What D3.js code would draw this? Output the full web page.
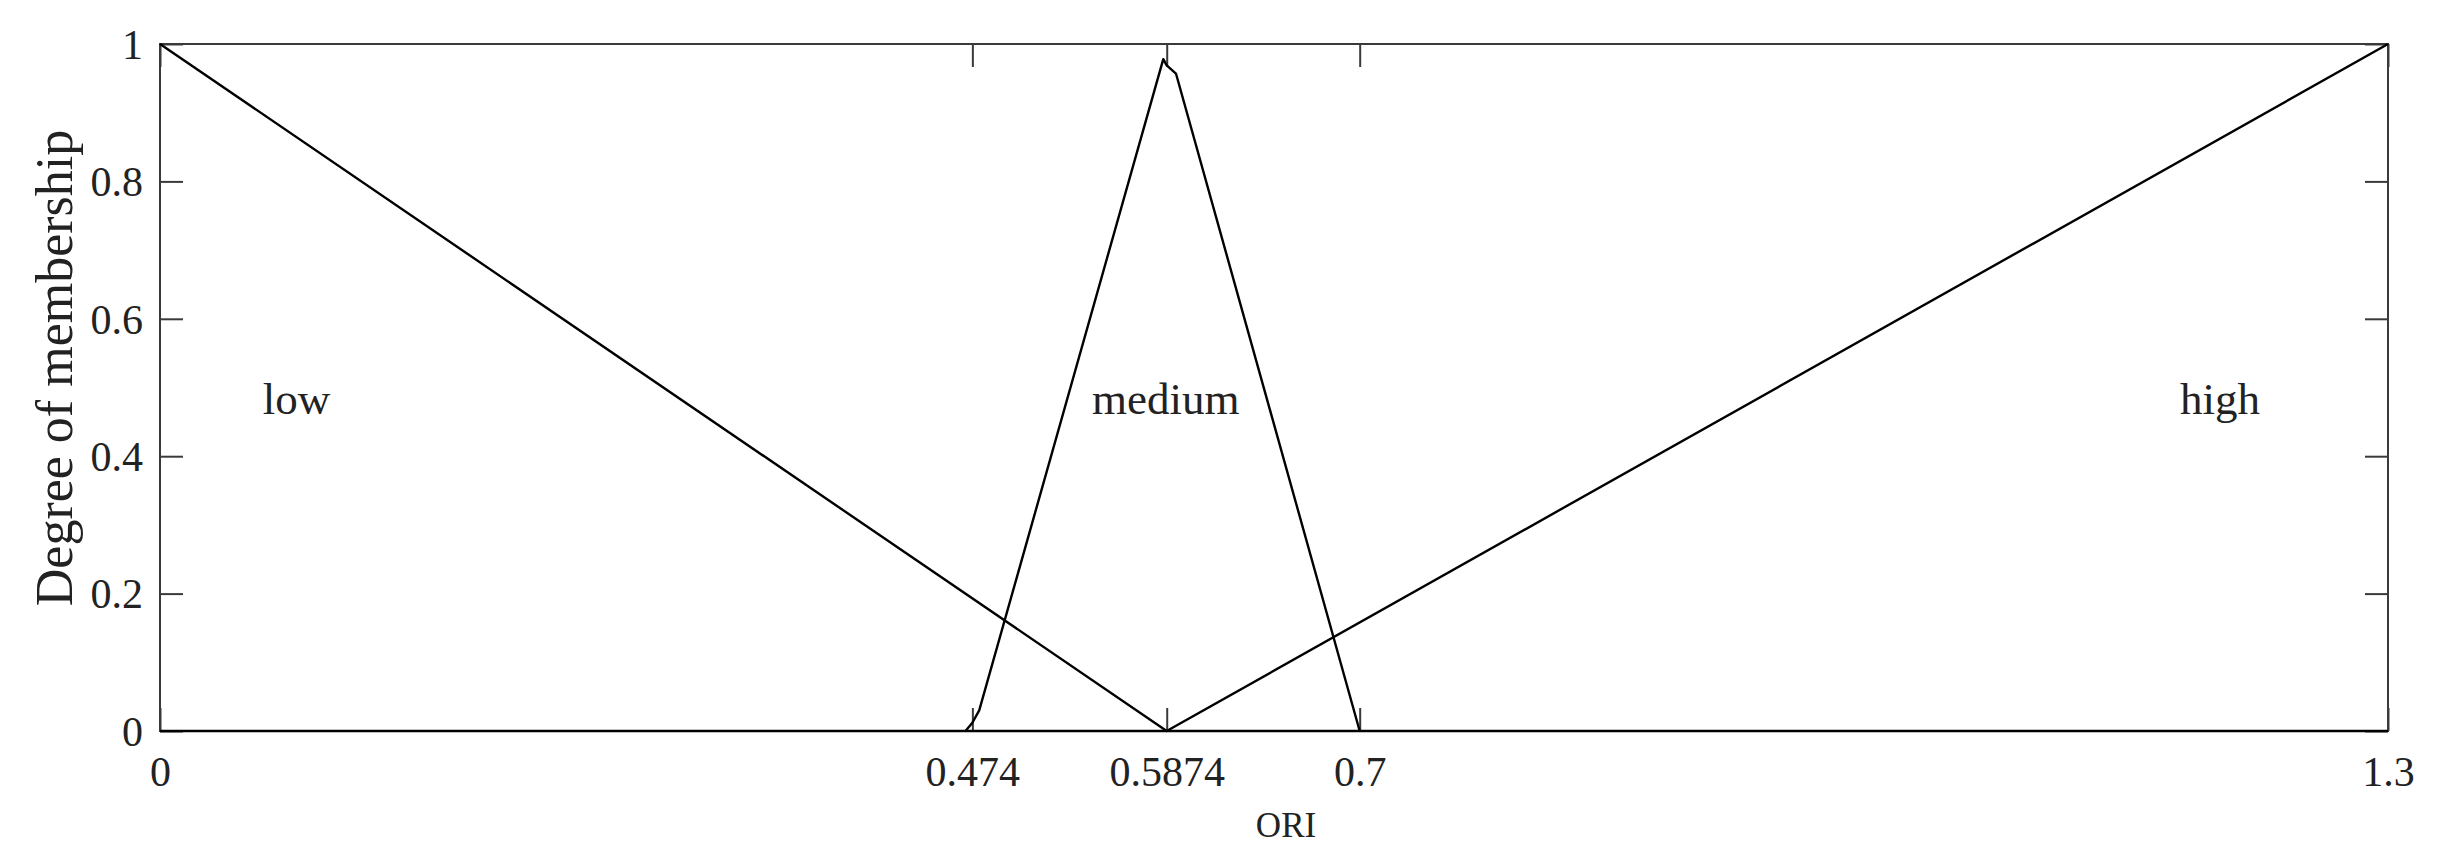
<!DOCTYPE html>
<html>
<head>
<meta charset="utf-8">
<script src="https://cdn.jsdelivr.net/npm/d3@7"></script>
<style>
  html, body { margin: 0; padding: 0; background: #fff; }
  svg { display: block; }
  text { font-family: "Liberation Serif", "Times New Roman", serif; fill: #222; }
</style>
</head>
<body>
<script>
// ---- data ----
const xTickValues = [0, 0.474, 0.5874, 0.7, 1.3];
const xTickLabels = ["0", "0.474", "0.5874", "0.7", "1.3"];
const yTickValues = [0, 0.2, 0.4, 0.6, 0.8, 1];
const yTickLabels = ["0", "0.2", "0.4", "0.6", "0.8", "1"];

const lowX = [0, 0.5874, 1.3];
const lowY = [1, 0, 0];
const mediumX = [0.470, 0.474, 0.478, 0.5854, 0.5874, 0.5928, 0.7];
const mediumY = [0, 0.012, 0.03, 0.978, 0.969, 0.957, 0];
const highX = [0, 0.5874, 1.3];
const highY = [0, 0, 1];

const setNames = ["low", "medium", "high"];
const setLabelX = [0.060, 0.5438, 1.1786];
const setLabelY = [0.461, 0.461, 0.461];

const xTitle = "ORI";
const yTitle = "Degree of membership";

// ---- layout ----
const W = 2444, H = 862;
const m = { left: 160, top: 44, right: 56, bottom: 131 };
const iw = W - m.left - m.right;   // 2228
const ih = H - m.top - m.bottom;   // 687

const svg = d3.select("body").append("svg").attr("width", W).attr("height", H);
const g = svg.append("g").attr("transform", `translate(${m.left},${m.top})`);

const x = d3.scaleLinear().domain([0, 1.3]).range([0, iw]);
const y = d3.scaleLinear().domain([0, 1]).range([ih, 0]);

const axisColor = "#3a3a3a";
const tickLen = 23;

function styleAxis(sel) {
  sel.attr("font-family", null);
  sel.select(".domain").remove();
  sel.selectAll(".tick line").attr("stroke", axisColor).attr("stroke-width", 2);
  sel.selectAll(".tick text")
    .style("font-family", '"Liberation Serif", "Times New Roman", serif')
    .style("font-size", "42px").attr("fill", "#222");
}

// bottom axis (ticks inward)
const xb = g.append("g").attr("transform", `translate(0,${ih})`)
  .call(d3.axisBottom(x).tickValues(xTickValues)
    .tickFormat((d, i) => xTickLabels[i]).tickSizeInner(-tickLen).tickSizeOuter(0).tickPadding(0));
styleAxis(xb);
xb.selectAll(".tick text").attr("y", 55).attr("dy", 0);

// top axis (no labels)
const xt = g.append("g")
  .call(d3.axisTop(x).tickValues(xTickValues).tickFormat("").tickSizeInner(-tickLen).tickSizeOuter(0));
styleAxis(xt);

// left axis
const yl = g.append("g")
  .call(d3.axisLeft(y).tickValues(yTickValues)
    .tickFormat((d, i) => yTickLabels[i]).tickSizeInner(-tickLen).tickSizeOuter(0).tickPadding(0));
styleAxis(yl);
yl.selectAll(".tick text").attr("x", -17).attr("dy", "0.34em");

// right axis
const yr = g.append("g").attr("transform", `translate(${iw},0)`)
  .call(d3.axisRight(y).tickValues(yTickValues).tickFormat("").tickSizeInner(-tickLen).tickSizeOuter(0));
styleAxis(yr);

// box
g.append("rect").attr("x", 0).attr("y", 0).attr("width", iw).attr("height", ih)
  .attr("fill", "none").attr("stroke", axisColor).attr("stroke-width", 2);

// membership functions
const line = d3.line().x(d => x(d[0])).y(d => y(d[1]));
const series = [
  d3.zip(lowX, lowY),
  d3.zip(mediumX, mediumY),
  d3.zip(highX, highY)
];
g.selectAll("path.mf").data(series).enter().append("path")
  .attr("class", "mf")
  .attr("d", line)
  .attr("fill", "none")
  .attr("stroke", "#000")
  .attr("stroke-width", 2.4)
  .attr("stroke-linejoin", "round");

// set labels
g.selectAll("text.setlabel").data(setNames).enter().append("text")
  .attr("class", "setlabel")
  .attr("x", (d, i) => x(setLabelX[i]))
  .attr("y", (d, i) => y(setLabelY[i]))
  .attr("text-anchor", "start")
  .style("font-size", "45px")
  .text(d => d);

// axis titles
svg.append("text")
  .attr("x", 1286).attr("y", 837)
  .attr("text-anchor", "middle")
  .style("font-size", "35px")
  .text(xTitle);

svg.append("text")
  .attr("transform", `translate(72,368) rotate(-90)`)
  .attr("text-anchor", "middle")
  .style("font-size", "52px")
  .text(yTitle);
</script>
</body>
</html>
